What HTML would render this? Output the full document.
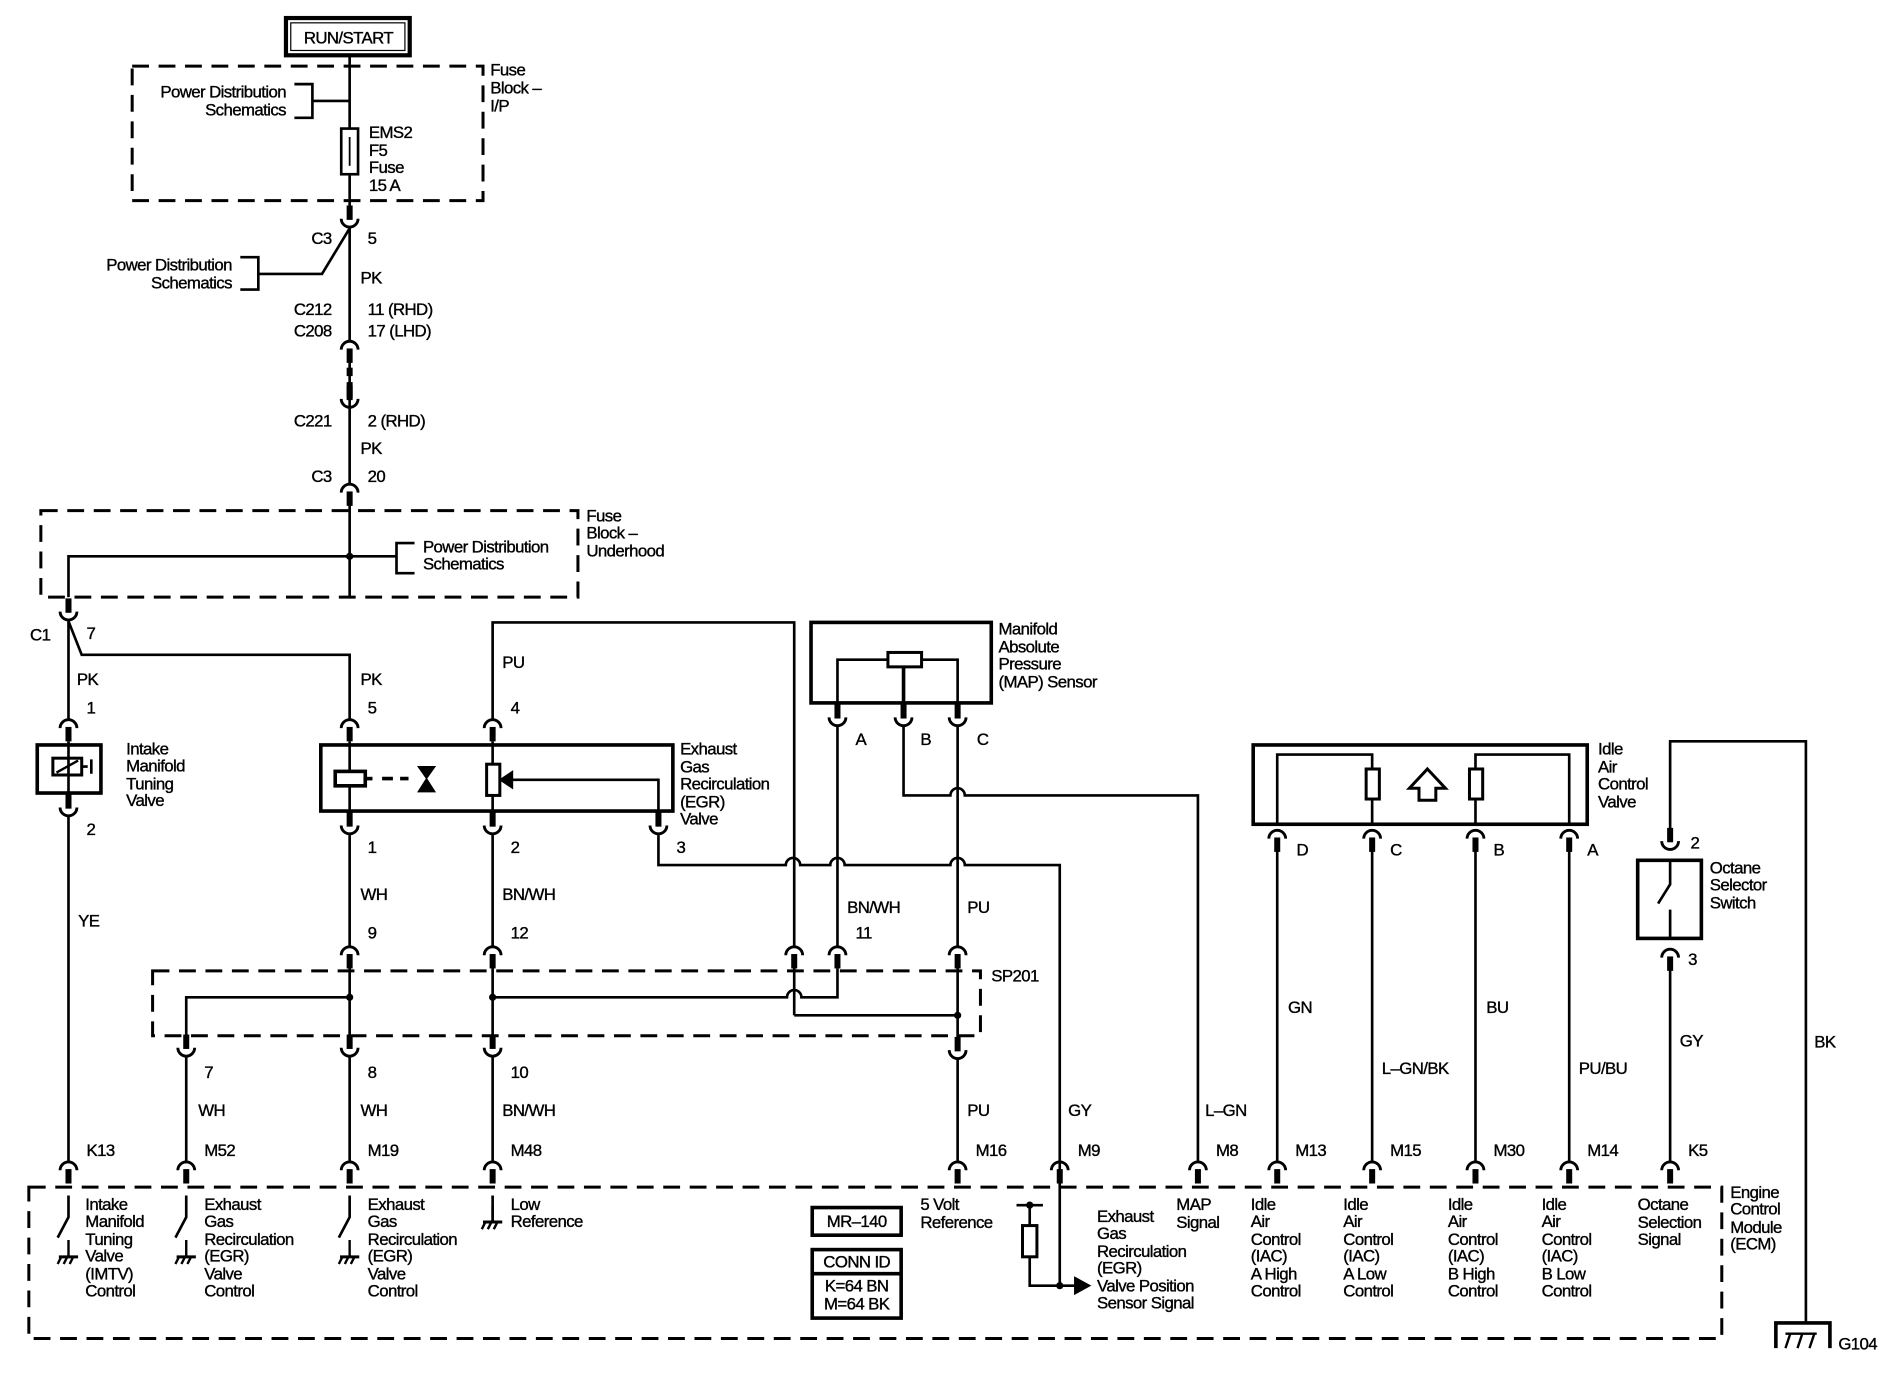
<!DOCTYPE html>
<html><head><meta charset="utf-8"><style>
html,body{margin:0;padding:0;background:#fff;}
svg{display:block;}
text{font-family:"Liberation Sans",sans-serif;font-size:14px;fill:#000;stroke:#000;stroke-width:0.3px;letter-spacing:-0.5px;}
</style></head><body>
<svg width="1884" height="1392" viewBox="0 0 1568 1158.5" xmlns="http://www.w3.org/2000/svg">
<defs>
<g id="dn"><path d="M-7,8 A7,7 0 0 1 7,8" fill="none" stroke="#000" stroke-width="2.4"/><line x1="0" y1="7" x2="0" y2="19" stroke="#000" stroke-width="5"/></g>
<g id="up"><path d="M-7,-8 A7,7 0 0 0 7,-8" fill="none" stroke="#000" stroke-width="2.4"/><line x1="0" y1="-19" x2="0" y2="-7" stroke="#000" stroke-width="5"/></g>
<g id="gnd"><line x1="0" y1="0" x2="0" y2="14" stroke="#000" stroke-width="2"/><line x1="-8" y1="14" x2="8" y2="14" stroke="#000" stroke-width="2.5"/><path d="M-6,14 l-3,6 M-1,14 l-3,6 M4,14 l-3,6" stroke="#000" stroke-width="2"/></g>
</defs>
<g fill="none" stroke="#000" stroke-width="2.2">
<rect x="238" y="15" width="103" height="31" stroke-width="3.5"/>
<rect x="242" y="19" width="95" height="23" stroke-width="1"/>
<rect x="110" y="55" width="292" height="112" stroke-dasharray="14,8" stroke-width="2.5"/>
<line x1="291" y1="46" x2="291" y2="107"/>
<rect x="284" y="107" width="14" height="38"/>
<line x1="291" y1="114" x2="291" y2="138" stroke-width="1.5"/>
<line x1="291" y1="145" x2="291" y2="172"/>
<path d="M245,70 H260 V98 H245 M260,84 H291"/>
<line x1="291" y1="190" x2="291" y2="283"/>
<path d="M291,190 L268,228 H215 M200,214 H215 V241 H200"/>
<line x1="291" y1="300" x2="291" y2="338"/>
<line x1="291" y1="306" x2="291" y2="313" stroke-width="5"/>
<line x1="291" y1="318" x2="291" y2="331" stroke-width="5"/>
<line x1="291" y1="338" x2="291" y2="402"/>
<rect x="34" y="425" width="447" height="72" stroke-dasharray="14,8" stroke-width="2.5"/>
<line x1="291" y1="420" x2="291" y2="497"/>
<path d="M57,497 V463 H330 M345,452 H330 V477 H345"/>
<line x1="57" y1="517" x2="57" y2="598"/>
<path d="M57,517 L68,545 H291 V598"/>
<rect x="31" y="620" width="53" height="40" stroke-width="3"/>
<line x1="57" y1="617" x2="57" y2="663"/>
<rect x="44" y="631" width="24" height="14" stroke-width="2.5"/>
<line x1="47" y1="643" x2="65" y2="633" stroke-width="2"/>
<path d="M68,638 H73 M76,632 V644" />
<line x1="57" y1="680" x2="57" y2="966"/>
<rect x="267" y="620" width="293" height="55" stroke-width="3"/>
<line x1="291" y1="617" x2="291" y2="678"/>
<line x1="410" y1="617" x2="410" y2="678"/>
<rect x="279" y="642" width="25" height="12" fill="#fff" stroke-width="3"/>
<path d="M304,648 H310" stroke-width="3"/>
<path d="M318,648 H340" stroke-width="3" stroke-dasharray="9,6"/>
<path d="M348,638 L362,638 L355,648 Z M348,659 L362,659 L355,648 Z" fill="#000" stroke-width="1"/>
<rect x="405" y="636" width="11" height="26" fill="#fff" stroke-width="2.5"/>
<path d="M548,678 V649 H422"/>
<path d="M417,649 L426,643 L426,655 Z" fill="#000"/>
<path d="M548,695 V720 H654 A6,6 0 0 1 666,720 H691 A6,6 0 0 1 703,720 H791 A6,6 0 0 1 803,720 H882 V1070"/>
<path d="M410,598 V518 H661 V787"/>
<line x1="291" y1="695" x2="291" y2="787"/>
<line x1="410" y1="695" x2="410" y2="787"/>
<rect x="127" y="808" width="689" height="54" stroke-dasharray="14,8" stroke-width="2.5"/>
<line x1="291" y1="804" x2="291" y2="864"/>
<line x1="410" y1="804" x2="410" y2="864"/>
<line x1="661" y1="804" x2="661" y2="845"/>
<line x1="797" y1="804" x2="797" y2="864"/>
<path d="M155,862 V830 H291"/>
<path d="M410,830 H655 A6,6 0 0 1 667,830 H697 V806"/>
<path d="M661,845 H797"/>
<line x1="155" y1="880" x2="155" y2="966"/>
<line x1="291" y1="880" x2="291" y2="966"/>
<line x1="410" y1="880" x2="410" y2="966"/>
<line x1="797" y1="882" x2="797" y2="966"/>
<rect x="675" y="518" width="150" height="67" stroke-width="3"/>
<rect x="739" y="543" width="28" height="12" stroke-width="2.5"/>
<path d="M739,549 H697 V588 M767,549 H797 V588"/>
<line x1="752" y1="555" x2="752" y2="588" stroke-width="3"/>
<path d="M752,605 V662 H791 A6,6 0 0 1 803,662 H997 V966"/>
<line x1="697" y1="605" x2="697" y2="787"/>
<line x1="797" y1="605" x2="797" y2="787"/>
<rect x="1043" y="620" width="278" height="66" stroke-width="3"/>
<path d="M1063,686 V628 H1142 V640 M1142,665 V686"/>
<rect x="1137" y="640" width="11" height="25" stroke-width="2.5"/>
<path d="M1228,686 V665 M1228,640 V628 H1306 V686"/>
<rect x="1223" y="640" width="11" height="25" stroke-width="2.5"/>
<path d="M1188,640 L1203,656 H1195 V666 H1181 V656 H1173 Z" stroke-width="2.5"/>
<line x1="1063" y1="706" x2="1063" y2="966"/>
<line x1="1142" y1="706" x2="1142" y2="966"/>
<line x1="1228" y1="706" x2="1228" y2="966"/>
<line x1="1306" y1="706" x2="1306" y2="966"/>
<path d="M1390,690 V617 H1503 V1101"/>
<rect x="1363" y="716" width="53" height="65" stroke-width="3"/>
<path d="M1390,716 V736 L1380,752 M1390,757 V781"/>
<line x1="1390" y1="806" x2="1390" y2="966"/>
<path d="M1478,1122 V1101 H1523 V1122" stroke-width="3"/>
<path d="M1490,1110 l-4,12 M1500,1110 l-4,12 M1510,1110 l-4,12 M1486,1110 H1512" stroke-width="2"/>
<rect x="24" y="988" width="1409" height="126" stroke-dasharray="14,8" stroke-width="2.5"/>
<path d="M57,995 V1013 L48,1030 M155,995 V1013 L146,1030 M291,995 V1013 L282,1030"/>
<line x1="410" y1="995" x2="410" y2="1017"/>
<rect x="676" y="1005" width="74" height="23" stroke-width="3"/>
<rect x="676" y="1040" width="74" height="57" stroke-width="3"/>
<line x1="676" y1="1060" x2="750" y2="1060" stroke-width="3"/>
<path d="M846,1003 H868 M857,1003 V1020 M857,1046 V1070 H895"/>
<rect x="851" y="1020" width="12" height="26" stroke-width="2.5"/>
<path d="M895,1064 L906,1070 L895,1076 Z" fill="#000"/>
</g>
<circle cx="291" cy="463" r="3"/>
<circle cx="291" cy="830" r="3"/>
<circle cx="410" cy="830" r="3"/>
<circle cx="797" cy="845" r="3"/>
<circle cx="857" cy="1003" r="3"/>
<circle cx="882" cy="1070" r="3"/>
<use href="#up" x="291" y="190"/>
<use href="#dn" x="291" y="283"/>
<use href="#up" x="291" y="340"/>
<use href="#dn" x="291" y="402"/>
<use href="#up" x="57" y="517"/>
<use href="#dn" x="57" y="598"/>
<use href="#up" x="57" y="680"/>
<use href="#dn" x="291" y="598"/>
<use href="#dn" x="410" y="598"/>
<use href="#up" x="291" y="695"/>
<use href="#up" x="410" y="695"/>
<use href="#up" x="548" y="695"/>
<use href="#dn" x="291" y="787"/>
<use href="#dn" x="410" y="787"/>
<use href="#dn" x="661" y="787"/>
<use href="#dn" x="697" y="787"/>
<use href="#dn" x="797" y="787"/>
<use href="#up" x="155" y="880"/>
<use href="#up" x="291" y="880"/>
<use href="#up" x="410" y="880"/>
<use href="#up" x="797" y="882"/>
<use href="#up" x="697" y="605"/>
<use href="#up" x="752" y="605"/>
<use href="#up" x="797" y="605"/>
<use href="#dn" x="1063" y="690"/>
<use href="#dn" x="1142" y="690"/>
<use href="#dn" x="1228" y="690"/>
<use href="#dn" x="1306" y="690"/>
<use href="#up" x="1390" y="708"/>
<use href="#dn" x="1390" y="789"/>
<use href="#dn" x="57" y="966"/>
<use href="#dn" x="155" y="966"/>
<use href="#dn" x="291" y="966"/>
<use href="#dn" x="410" y="966"/>
<use href="#dn" x="797" y="966"/>
<use href="#dn" x="882" y="966"/>
<use href="#dn" x="997" y="966"/>
<use href="#dn" x="1063" y="966"/>
<use href="#dn" x="1142" y="966"/>
<use href="#dn" x="1228" y="966"/>
<use href="#dn" x="1306" y="966"/>
<use href="#dn" x="1390" y="966"/>
<use href="#gnd" x="57" y="1032"/>
<use href="#gnd" x="155" y="1032"/>
<use href="#gnd" x="291" y="1032"/>
<use href="#gnd" x="410" y="1003"/>
<text x="290" y="36" text-anchor="middle">RUN/START</text>
<text text-anchor="end"><tspan x="238" y="81">Power Distribution</tspan><tspan x="238" y="96">Schematics</tspan></text>
<text><tspan x="307" y="115">EMS2</tspan><tspan x="307" y="130">F5</tspan><tspan x="307" y="144">Fuse</tspan><tspan x="307" y="159">15 A</tspan></text>
<text><tspan x="408" y="63">Fuse</tspan><tspan x="408" y="78">Block –</tspan><tspan x="408" y="93">I/P</tspan></text>
<text x="276" y="203" text-anchor="end">C3</text><text x="306" y="203">5</text>
<text text-anchor="end"><tspan x="193" y="225">Power Distribution</tspan><tspan x="193" y="240">Schematics</tspan></text>
<text x="300" y="236">PK</text>
<text text-anchor="end"><tspan x="276" y="262">C212</tspan><tspan x="276" y="280">C208</tspan></text>
<text><tspan x="306" y="262">11 (RHD)</tspan><tspan x="306" y="280">17 (LHD)</tspan></text>
<text x="276" y="355" text-anchor="end">C221</text><text x="306" y="355">2 (RHD)</text>
<text x="300" y="378">PK</text>
<text x="276" y="401" text-anchor="end">C3</text><text x="306" y="401">20</text>
<text><tspan x="352" y="460">Power Distribution</tspan><tspan x="352" y="474">Schematics</tspan></text>
<text><tspan x="488" y="434">Fuse</tspan><tspan x="488" y="448">Block –</tspan><tspan x="488" y="463">Underhood</tspan></text>
<text x="25" y="533">C1</text><text x="72" y="532">7</text>
<text x="64" y="570">PK</text><text x="300" y="570">PK</text><text x="418" y="556">PU</text>
<text x="72" y="594">1</text><text x="306" y="594">5</text><text x="425" y="594">4</text>
<text><tspan x="105" y="628">Intake</tspan><tspan x="105" y="642">Manifold</tspan><tspan x="105" y="657">Tuning</tspan><tspan x="105" y="671">Valve</tspan></text>
<text><tspan x="566" y="628">Exhaust</tspan><tspan x="566" y="643">Gas</tspan><tspan x="566" y="657">Recirculation</tspan><tspan x="566" y="672">(EGR)</tspan><tspan x="566" y="686">Valve</tspan></text>
<text><tspan x="831" y="528">Manifold</tspan><tspan x="831" y="543">Absolute</tspan><tspan x="831" y="557">Pressure</tspan><tspan x="831" y="572">(MAP) Sensor</tspan></text>
<text x="712" y="620">A</text><text x="766" y="620">B</text><text x="813" y="620">C</text>
<text><tspan x="1330" y="628">Idle</tspan><tspan x="1330" y="643">Air</tspan><tspan x="1330" y="657">Control</tspan><tspan x="1330" y="672">Valve</tspan></text>
<text x="72" y="695">2</text><text x="306" y="710">1</text><text x="425" y="710">2</text><text x="563" y="710">3</text>
<text x="1079" y="712">D</text><text x="1157" y="712">C</text><text x="1243" y="712">B</text><text x="1321" y="712">A</text>
<text x="1407" y="706">2</text><text x="1405" y="803">3</text>
<text><tspan x="1423" y="727">Octane</tspan><tspan x="1423" y="741">Selector</tspan><tspan x="1423" y="756">Switch</tspan></text>
<text x="300" y="749">WH</text><text x="418" y="749">BN/WH</text>
<text x="705" y="760">BN/WH</text><text x="805" y="760">PU</text>
<text x="65" y="771">YE</text>
<text x="306" y="781">9</text><text x="425" y="781">12</text><text x="712" y="781">11</text>
<text x="825" y="817">SP201</text>
<text x="1072" y="843">GN</text><text x="1237" y="843">BU</text>
<text x="1398" y="871">GY</text><text x="1510" y="872">BK</text>
<text x="1150" y="894">L–GN/BK</text><text x="1314" y="894">PU/BU</text>
<text x="170" y="897">7</text><text x="306" y="897">8</text><text x="425" y="897">10</text>
<text x="165" y="929">WH</text><text x="300" y="929">WH</text><text x="418" y="929">BN/WH</text>
<text x="805" y="929">PU</text><text x="889" y="929">GY</text><text x="1003" y="929">L–GN</text>
<text x="72" y="962">K13</text><text x="170" y="962">M52</text><text x="306" y="962">M19</text><text x="425" y="962">M48</text>
<text x="812" y="962">M16</text><text x="897" y="962">M9</text><text x="1012" y="962">M8</text>
<text x="1078" y="962">M13</text><text x="1157" y="962">M15</text><text x="1243" y="962">M30</text><text x="1321" y="962">M14</text><text x="1405" y="962">K5</text>
<text><tspan x="1440" y="997">Engine</tspan><tspan x="1440" y="1011">Control</tspan><tspan x="1440" y="1026">Module</tspan><tspan x="1440" y="1040">(ECM)</tspan></text>
<text><tspan x="71" y="1007">Intake</tspan><tspan x="71" y="1021">Manifold</tspan><tspan x="71" y="1036">Tuning</tspan><tspan x="71" y="1050">Valve</tspan><tspan x="71" y="1065">(IMTV)</tspan><tspan x="71" y="1079">Control</tspan></text>
<text><tspan x="170" y="1007">Exhaust</tspan><tspan x="170" y="1021">Gas</tspan><tspan x="170" y="1036">Recirculation</tspan><tspan x="170" y="1050">(EGR)</tspan><tspan x="170" y="1065">Valve</tspan><tspan x="170" y="1079">Control</tspan></text>
<text><tspan x="306" y="1007">Exhaust</tspan><tspan x="306" y="1021">Gas</tspan><tspan x="306" y="1036">Recirculation</tspan><tspan x="306" y="1050">(EGR)</tspan><tspan x="306" y="1065">Valve</tspan><tspan x="306" y="1079">Control</tspan></text>
<text><tspan x="425" y="1007">Low</tspan><tspan x="425" y="1021">Reference</tspan></text>
<text x="713" y="1021" text-anchor="middle">MR–140</text>
<text x="713" y="1055" text-anchor="middle">CONN ID</text>
<text text-anchor="middle"><tspan x="713" y="1075">K=64 BN</tspan><tspan x="713" y="1090">M=64 BK</tspan></text>
<text><tspan x="766" y="1007">5 Volt</tspan><tspan x="766" y="1022">Reference</tspan></text>
<text><tspan x="913" y="1017">Exhaust</tspan><tspan x="913" y="1031">Gas</tspan><tspan x="913" y="1046">Recirculation</tspan><tspan x="913" y="1060">(EGR)</tspan><tspan x="913" y="1075">Valve Position</tspan><tspan x="913" y="1089">Sensor Signal</tspan></text>
<text><tspan x="979" y="1007">MAP</tspan><tspan x="979" y="1022">Signal</tspan></text>
<text><tspan x="1041" y="1007">Idle</tspan><tspan x="1041" y="1021">Air</tspan><tspan x="1041" y="1036">Control</tspan><tspan x="1041" y="1050">(IAC)</tspan><tspan x="1041" y="1065">A High</tspan><tspan x="1041" y="1079">Control</tspan></text>
<text><tspan x="1118" y="1007">Idle</tspan><tspan x="1118" y="1021">Air</tspan><tspan x="1118" y="1036">Control</tspan><tspan x="1118" y="1050">(IAC)</tspan><tspan x="1118" y="1065">A Low</tspan><tspan x="1118" y="1079">Control</tspan></text>
<text><tspan x="1205" y="1007">Idle</tspan><tspan x="1205" y="1021">Air</tspan><tspan x="1205" y="1036">Control</tspan><tspan x="1205" y="1050">(IAC)</tspan><tspan x="1205" y="1065">B High</tspan><tspan x="1205" y="1079">Control</tspan></text>
<text><tspan x="1283" y="1007">Idle</tspan><tspan x="1283" y="1021">Air</tspan><tspan x="1283" y="1036">Control</tspan><tspan x="1283" y="1050">(IAC)</tspan><tspan x="1283" y="1065">B Low</tspan><tspan x="1283" y="1079">Control</tspan></text>
<text><tspan x="1363" y="1007">Octane</tspan><tspan x="1363" y="1022">Selection</tspan><tspan x="1363" y="1036">Signal</tspan></text>
<text x="1530" y="1123">G104</text>
</svg>
</body></html>
